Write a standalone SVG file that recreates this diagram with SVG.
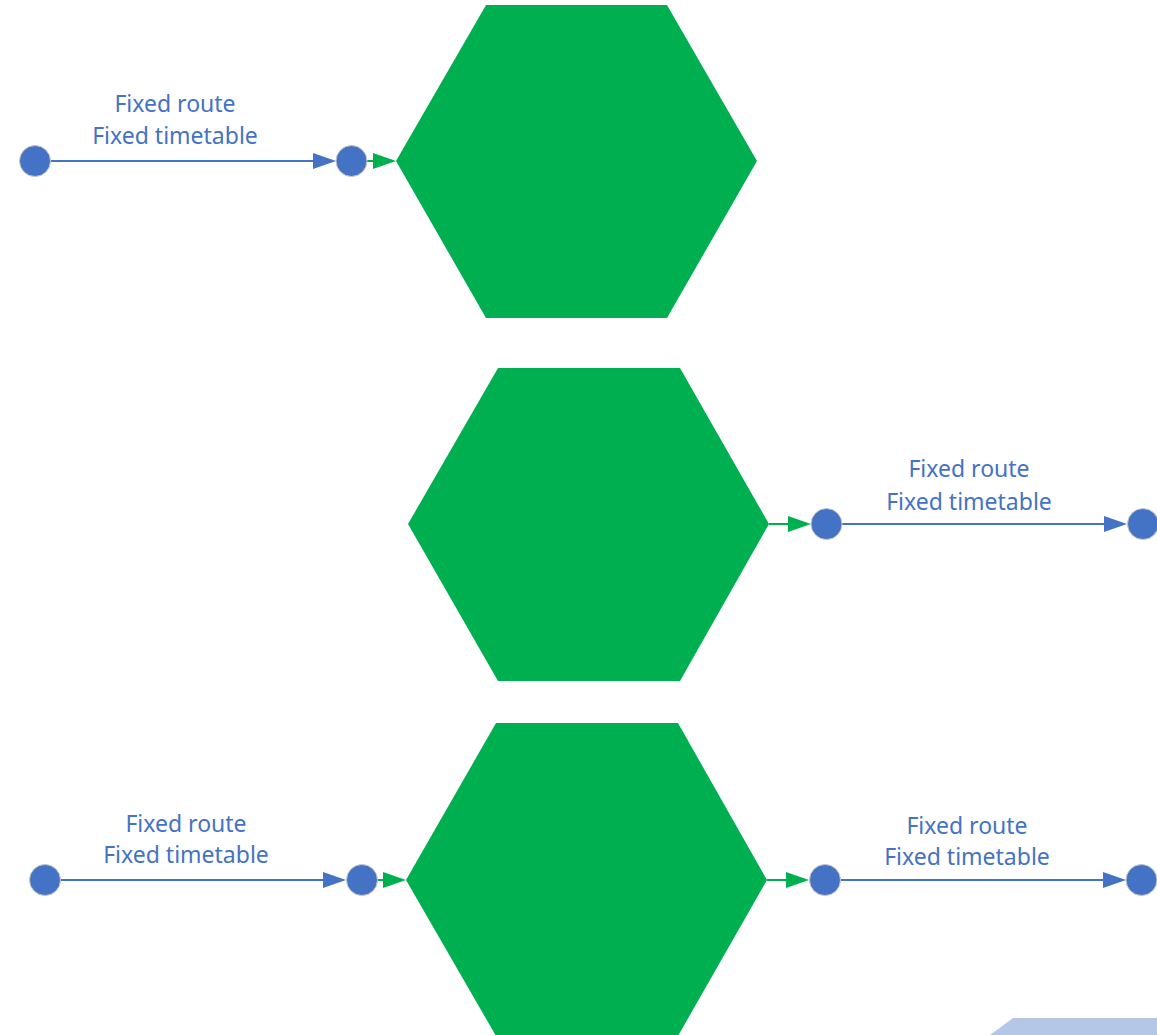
<svg xmlns="http://www.w3.org/2000/svg" width="1157" height="1035" viewBox="0 0 1157 1035">
  <style>
    .hex { fill: #00B050; }
    .stop { fill: #4472C4; stroke: #C8C8C8; stroke-width: 1; }
    .route { stroke: #4472C4; stroke-width: 2; fill: none; marker-end: url(#arrowBlue); }
    .link { stroke: #00B050; stroke-width: 2; fill: none; marker-end: url(#arrowGreen); }
    .label { font-family: "Noto Sans", "Open Sans", sans-serif; font-size: 23px; fill: #4472C4; text-anchor: middle; }
  </style>
  <defs>
    <marker id="arrowBlue" markerUnits="userSpaceOnUse" markerWidth="23" markerHeight="16" refX="19" refY="8" orient="auto">
      <path d="M0,0 L23,8 L0,16 z" fill="#4472C4"/>
    </marker>
    <marker id="arrowGreen" markerUnits="userSpaceOnUse" markerWidth="23" markerHeight="16" refX="19" refY="8" orient="auto">
      <path d="M0,0 L23,8 L0,16 z" fill="#00B050"/>
    </marker>
  </defs>

  <rect width="1157" height="1035" fill="#FFFFFF"/>

  <!-- hexagons -->
  <g id="hex-top"><polygon class="hex" points="396,161 486,5 667,5 757,161 667,318 486,318"/></g>
  <g id="hex-middle"><polygon class="hex" points="408,524 498,368 680,368 769,524 680,681 498,681"/></g>
  <g id="hex-bottom"><polygon class="hex" points="406,880 496,723 678,723 767,880 678,1036 496,1036"/></g>

  <!-- partial shape at lower right -->
  <g id="corner-shape"><polygon points="1013,1018 1157,1018 1157,1035 990,1035" fill="#B4C7E7"/></g>

  <!-- connectors -->
  <g id="connectors">
    <line class="route" x1="50" y1="161" x2="332" y2="161"/>
    <line class="link" x1="367" y1="161" x2="392" y2="161"/>

    <line class="link" x1="769" y1="524" x2="807" y2="524"/>
    <line class="route" x1="842" y1="524" x2="1123" y2="524"/>

    <line class="route" x1="60" y1="880" x2="342" y2="880"/>
    <line class="link" x1="377" y1="880" x2="402" y2="880"/>
    <line class="link" x1="767" y1="880" x2="805" y2="880"/>
    <line class="route" x1="840" y1="880" x2="1122" y2="880"/>
  </g>

  <!-- stops -->
  <g id="stop-1a"><circle class="stop" cx="35" cy="161" r="15.5"/></g>
  <g id="stop-1b"><circle class="stop" cx="351.5" cy="161" r="15.5"/></g>
  <g id="stop-2a"><circle class="stop" cx="826.5" cy="524" r="15.5"/></g>
  <g id="stop-2b"><circle class="stop" cx="1143" cy="524" r="15.5"/></g>
  <g id="stop-3a"><circle class="stop" cx="45" cy="880" r="15.5"/></g>
  <g id="stop-3b"><circle class="stop" cx="362" cy="880" r="15.5"/></g>
  <g id="stop-3c"><circle class="stop" cx="825" cy="880" r="15.5"/></g>
  <g id="stop-3d"><circle class="stop" cx="1141.5" cy="880" r="15.5"/></g>

  <!-- route labels -->
  <g id="label-1">
    <text class="label" x="175" y="112">Fixed route</text>
    <text class="label" x="175" y="144">Fixed timetable</text>
  </g>
  <g id="label-2">
    <text class="label" x="969" y="477">Fixed route</text>
    <text class="label" x="969" y="510">Fixed timetable</text>
  </g>
  <g id="label-3">
    <text class="label" x="186" y="832">Fixed route</text>
    <text class="label" x="186" y="863">Fixed timetable</text>
  </g>
  <g id="label-4">
    <text class="label" x="967" y="834">Fixed route</text>
    <text class="label" x="967" y="865">Fixed timetable</text>
  </g>
</svg>
